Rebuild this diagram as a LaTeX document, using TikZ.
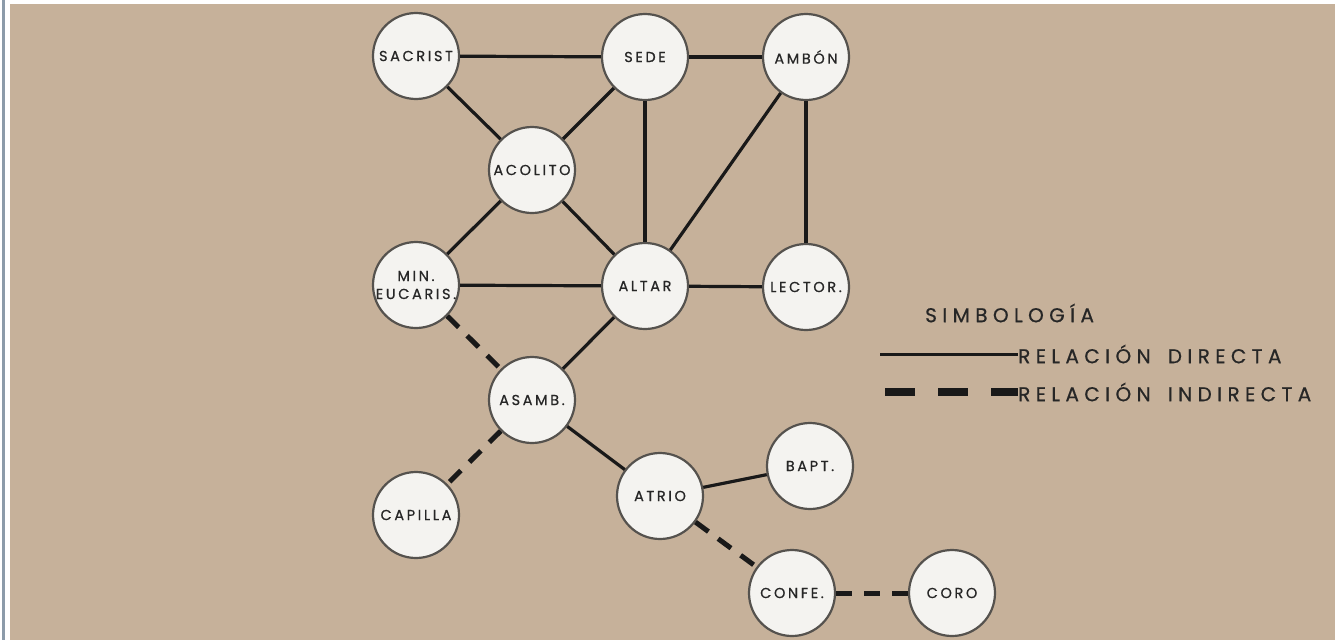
\documentclass[tikz,border=0pt]{standalone}
\usepackage{fontspec}
\setmainfont{Poppins}
\newfontfamily\lblfont[LetterSpace=18,FakeBold=0.6]{Poppins}
\newfontfamily\legfont[LetterSpace=27,WordSpace=1.6,FakeBold=0.6]{Poppins}
\definecolor{bg}{RGB}{198,177,154}
\definecolor{nodefill}{RGB}{244,243,240}
\definecolor{nodeedge}{RGB}{85,82,78}
\definecolor{frameline}{RGB}{140,155,170}
\begin{document}
\begin{tikzpicture}[x=1pt,y=-1pt,
  room/.style={circle, minimum size=86pt, inner sep=0pt, draw=nodeedge, line width=2.2pt, fill=nodefill, font=\lblfont\fontsize{14.5}{18}\selectfont, align=center, text=black!85},
  direct/.style={line width=3.2pt, black!90},
  indirect/.style={line width=5pt, black!90, dash pattern=on 16pt off 12pt},
  legtext/.style={font=\legfont\fontsize{20}{24}\selectfont, text=black!85, inner sep=0pt}
]
\useasboundingbox (0,0) rectangle (1335,640);
\fill[white] (0,0) rectangle (1335,640);
\fill[frameline] (2,0) rectangle (4.5,640);
\fill[bg] (10,4) rectangle (1335,640);

\node[room] (sacrist) at (416,56) {SACRIST};
\node[room] (sede) at (645,57) {SEDE};
\node[room] (ambon) at (806,57) {AMBÓN};
\node[room] (acolito) at (532,170) {ACOLITO};
\node[room] (min) at (416,285) {MIN.\\EUCARIS.};
\node[room] (altar) at (645,286) {ALTAR};
\node[room] (lector) at (806,287) {LECTOR.};
\node[room] (asamb) at (532,400) {ASAMB.};
\node[room] (capilla) at (416,515) {CAPILLA};
\node[room] (atrio) at (660,496) {ATRIO};
\node[room] (bapt) at (810,466) {BAPT.};
\node[room] (confe) at (792,593) {CONFE.};
\node[room] (coro) at (952,593) {CORO};

\draw[direct] (sacrist) -- (sede);
\draw[direct] (sede) -- (ambon);
\draw[direct] (sacrist) -- (acolito);
\draw[direct] (sede) -- (acolito);
\draw[direct] (sede.south) -- (altar.north);
\draw[direct] (ambon) -- (altar);
\draw[direct] (ambon) -- (lector);
\draw[direct] (acolito) -- (min);
\draw[direct] (acolito) -- (altar);
\draw[direct] (min) -- (altar);
\draw[direct] (altar) -- (lector);
\draw[direct] (altar) -- (asamb);
\draw[direct] (asamb) -- (atrio);
\draw[direct] (atrio) -- (bapt);
\draw[indirect] (min) -- (asamb);
\draw[indirect] (asamb) -- (capilla);
\draw[indirect] (atrio) -- (confe);
\draw[indirect] (confe) -- (coro);

\node[legtext, anchor=west] (simb) at (925,313) {SIMBOLOGÍA};
\node[legtext, anchor=west] (ldir) at (1018,354) {RELACIÓN DIRECTA};
\node[legtext, anchor=west] (lind) at (1018,392) {RELACIÓN INDIRECTA};
\coordinate (sd) at (880,354);
\coordinate (id) at (885,392);
\draw[line width=3pt, black!90] (sd) -- (ldir.west);
\draw[line width=8pt, black!90, dash pattern=on 30pt off 23pt] (id) -- (lind.west);
\end{tikzpicture}
\end{document}
